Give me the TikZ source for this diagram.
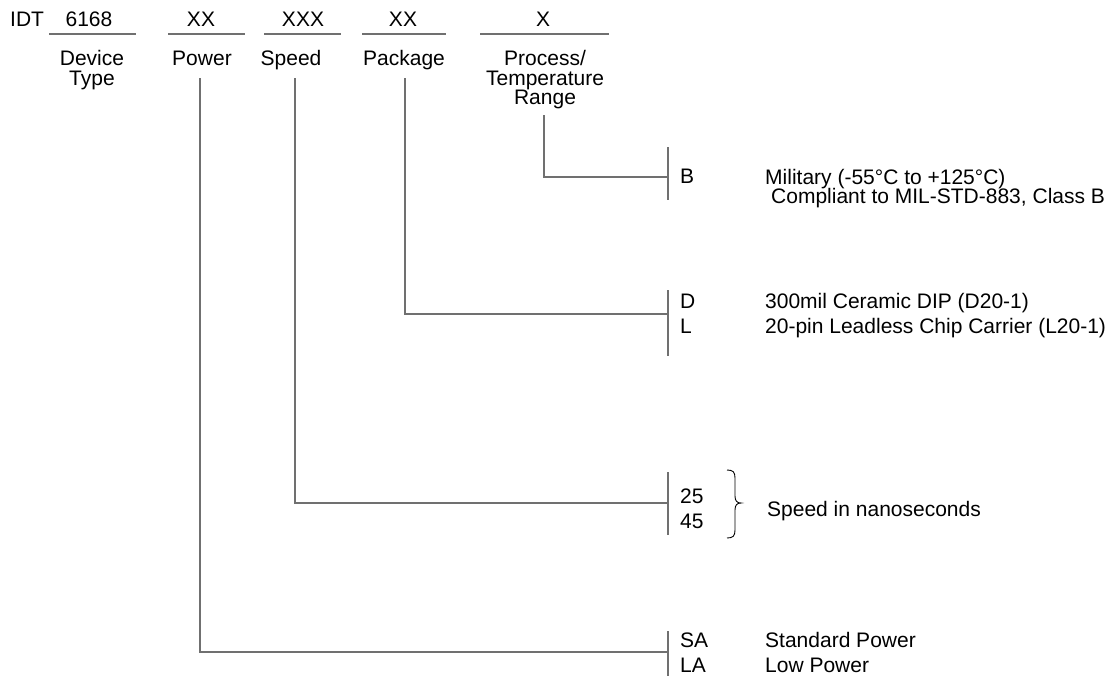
\documentclass[tikz,border=0pt]{standalone}
\usepackage{fontspec}
\setmainfont{Liberation Sans}
\definecolor{lncol}{HTML}{707070}
\begin{document}
\begin{tikzpicture}[x=1pt,y=-1pt,
  font=\fontsize{21}{25}\selectfont,
  conn/.style={draw=lncol,line width=1.5pt},
  uline/.style={draw=lncol,line width=1.5pt},
  txt/.style={inner sep=0pt,anchor=base west},
  ctr/.style={inner sep=0pt,anchor=base},
  brace/.style={draw=black,line width=0.9pt}]
\useasboundingbox (0,0) rectangle (1110,677);
% top row
\node[txt] (idt) at (10,27) {IDT};
\node[ctr] (tdev) at (89,27) {6168};
\node[ctr] (tpow) at (201,27) {XX};
\node[ctr] (tspd) at (303,27) {XXX};
\node[ctr] (tpkg) at (403,27) {XX};
\node[ctr] (tprc) at (543,27) {X};
% underlines
\coordinate (u1a) at (49,34);  \coordinate (u1b) at (136,34);
\coordinate (u2a) at (168,34); \coordinate (u2b) at (245,34);
\coordinate (u3a) at (264,34); \coordinate (u3b) at (341,34);
\coordinate (u4a) at (362,34); \coordinate (u4b) at (446,34);
\coordinate (u5a) at (480,34); \coordinate (u5b) at (609,34);
\draw[uline] (u1a) -- (u1b);
\draw[uline] (u2a) -- (u2b);
\draw[uline] (u3a) -- (u3b);
\draw[uline] (u4a) -- (u4b);
\draw[uline] (u5a) -- (u5b);
% field labels
\node[ctr] (ldev1) at (92,66) {Device};
\node[ctr] (ldev2) at (92,85) {Type};
\node[ctr] (lpow) at (202,66) {Power};
\node[ctr] (lspd) at (291,66) {Speed};
\node[ctr] (lpkg) at (404,66) {Package};
\node[ctr] (lprc1) at (545,66) {Process/};
\node[ctr] (lprc2) at (545,85) {Temperature};
\node[ctr] (lprc3) at (545,104) {Range};
% option bars
\coordinate (bB1) at (668,147); \coordinate (bB2) at (668,200);
\coordinate (bD1) at (668,290); \coordinate (bD2) at (668,356);
\coordinate (bS1) at (668,472); \coordinate (bS2) at (668,535);
\coordinate (bP1) at (668,631); \coordinate (bP2) at (668,676);
\draw[conn] (bB1) -- (bB2);
\draw[conn] (bD1) -- (bD2);
\draw[conn] (bS1) -- (bS2);
\draw[conn] (bP1) -- (bP2);
% connectors
\coordinate (vprc) at (544,115); \coordinate (hprc) at (668,177);
\coordinate (vpkg) at (405,78);  \coordinate (hpkg) at (668,314);
\coordinate (vspd) at (295,78);  \coordinate (hspd) at (668,503);
\coordinate (vpow) at (200,78);  \coordinate (hpow) at (668,652);
\draw[conn] (vprc) |- (hprc);
\draw[conn] (vpkg) |- (hpkg);
\draw[conn] (vspd) |- (hspd);
\draw[conn] (vpow) |- (hpow);
% process options
\node[txt] (oB) at (680,183) {B};
\node[txt] (dB1) at (765,184) {Military (-55°C to +125°C)};
\node[txt] (dB2) at (771,203) {Compliant to MIL-STD-883, Class B};
% package options
\node[txt] (oD) at (680,308) {D};
\node[txt] (oL) at (680,333) {L};
\node[txt] (dD) at (765,308) {300mil Ceramic DIP (D20-1)};
\node[txt] (dL) at (765,333) {20-pin Leadless Chip Carrier (L20-1)};
% speed options
\node[txt] (o25) at (680,503) {25};
\node[txt] (o45) at (680,528) {45};
\draw[brace] (727,470) .. controls (733,470) and (735,472) .. (735,478)
  -- (735,496) .. controls (735,501) and (737,503) .. (741,503)
  .. controls (737,503) and (735,505) .. (735,510)
  -- (735,530) .. controls (735,536) and (733,538) .. (727,538);
\node[txt] (dS) at (767,516) {Speed in nanoseconds};
% power options
\node[txt] (oSA) at (680,647) {SA};
\node[txt] (oLA) at (680,672) {LA};
\node[txt] (dSA) at (765,647) {Standard Power};
\node[txt] (dLA) at (765,672) {Low Power};
\end{tikzpicture}
\end{document}
